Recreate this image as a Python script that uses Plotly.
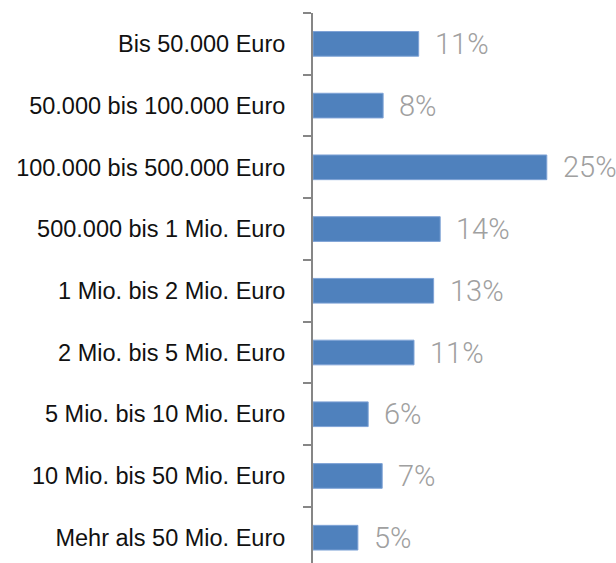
import plotly.graph_objects as go

categories = [
    "Bis 50.000 Euro",
    "50.000 bis 100.000 Euro",
    "100.000 bis 500.000 Euro",
    "500.000 bis 1 Mio. Euro",
    "1 Mio. bis 2 Mio. Euro",
    "2 Mio. bis 5 Mio. Euro",
    "5 Mio. bis 10 Mio. Euro",
    "10 Mio. bis 50 Mio. Euro",
    "Mehr als 50 Mio. Euro",
]
values = [11.3, 7.5, 25.0, 13.6, 12.9, 10.8, 5.9, 7.4, 4.8]
value_labels = ["11%", "8%", "25%", "14%", "13%", "11%", "6%", "7%", "5%"]

fig = go.Figure()
fig.add_trace(go.Bar(
    x=values,
    y=categories,
    orientation="h",
    marker=dict(color="#4F81BD", line=dict(color="#7FA3D6", width=1)),
    hoverinfo="skip",
))

for c, v, t in zip(categories, values, value_labels):
    fig.add_annotation(
        x=v, y=c, text=t, showarrow=False,
        xanchor="left", yanchor="middle", xshift=14,
        font=dict(family="Roboto", size=29, color="#A0A0A0", weight=300),
    )

fig.update_layout(
    width=616, height=563,
    margin=dict(l=313, r=0, t=13, b=0),
    paper_bgcolor="white", plot_bgcolor="white",
    bargap=0.6,
    showlegend=False,
    xaxis=dict(range=[0, 32.4], visible=False, showgrid=False, zeroline=False),
    yaxis=dict(
        categoryorder="array", categoryarray=categories,
        range=[8.41, -0.5],
        showline=True, linecolor="#868686", linewidth=2,
        ticks="outside", ticklen=8, tickwidth=2, tickcolor="#868686",
        tickson="boundaries",
        ticklabelstandoff=21,
        showgrid=False, zeroline=False,
        tickfont=dict(family="Liberation Sans, Arial", size=23.5, color="#111111"),
    ),
)

fig.write_html(
    "out.html",
    config={"displayModeBar": False},
    post_script="document.body.style.margin='0';document.body.style.overflow='hidden';",
)
